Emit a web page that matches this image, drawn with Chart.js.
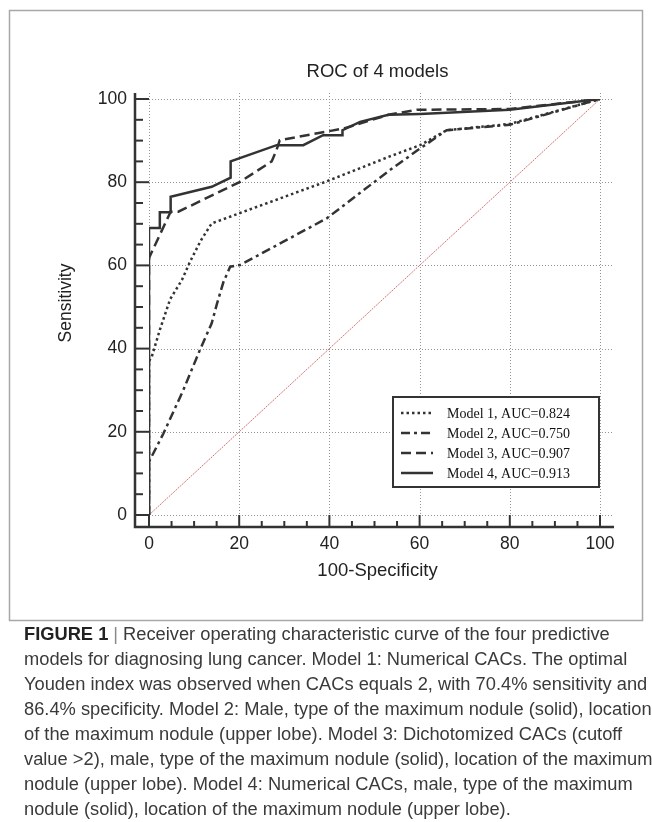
<!DOCTYPE html>
<html>
<head>
<meta charset="utf-8">
<script src="https://cdn.jsdelivr.net/npm/chart.js@4.4.1/dist/chart.umd.min.js"></script>
<style>
  html, body { margin: 0; padding: 0; background: #fff; }
  body { width: 652px; height: 822px; position: relative; overflow: hidden; }
  #roc { position: absolute; left: 0; top: 0; }
  .caption {
    position: absolute; left: 24px; top: 621px; width: 628px;
    font-family: 'Liberation Sans', Arial, sans-serif; font-size: 18.3px;
    line-height: 25px; color: #3a3a3a; white-space: nowrap;
  }
  .caption b { color: #222; }
  .caption .bar { color: #888; padding: 0 5px; }
</style>
</head>
<body>
<canvas id="roc" width="652" height="622"></canvas>
<div class="caption">
  <div><b>FIGURE 1</b><span class="bar">|</span>Receiver operating characteristic curve of the four predictive</div>
  <div>models for diagnosing lung cancer. Model 1: Numerical CACs. The optimal</div>
  <div>Youden index was observed when CACs equals 2, with 70.4% sensitivity and</div>
  <div>86.4% specificity. Model 2: Male, type of the maximum nodule (solid), location</div>
  <div>of the maximum nodule (upper lobe). Model 3: Dichotomized CACs (cutoff</div>
  <div>value &gt;2), male, type of the maximum nodule (solid), location of the maximum</div>
  <div>nodule (upper lobe). Model 4: Numerical CACs, male, type of the maximum</div>
  <div>nodule (solid), location of the maximum nodule (upper lobe).</div>
</div>
<script>
  // ROC curves: x = 100-Specificity, y = Sensitivity
  const MODEL_LABELS = ['Model 1, AUC=0.824', 'Model 2, AUC=0.750', 'Model 3, AUC=0.907', 'Model 4, AUC=0.913'];

  const model1Spec = [0, 0, 0.6, 2.4, 4.7, 7.3, 9.1, 11.5, 13.9, 39.4, 53.4, 60.1, 66, 80, 100];
  const model1Sens = [0, 37, 38, 44.5, 51.9, 56.5, 60.9, 66, 70.1, 80.2, 86.2, 88.9, 92.5, 94, 100];

  const model2Spec = [0, 0, 3.2, 7.6, 11.3, 13.9, 15, 16.5, 18, 20.2, 39.4, 53.4, 60.1, 66, 80, 100];
  const model2Sens = [0, 12.8, 19.6, 30, 39.7, 46.1, 50.5, 56, 59.7, 60.1, 71.3, 82.9, 88.1, 92.5, 93.8, 100];

  const model3Spec = [0, 0, 4.8, 6.5, 20.2, 27.2, 28.2, 29, 43.1, 53.1, 59.4, 80, 100];
  const model3Sens = [0, 61.8, 72.9, 72.9, 80.1, 85, 87.5, 90.1, 92.9, 96.2, 97.4, 97.6, 100];

  const model4Spec = [0, 0, 2.4, 2.4, 4.8, 4.8, 13.9, 18.1, 18.1, 28.3, 34.2, 38.6, 42.9, 42.9, 46.8, 53.1, 60.1, 80, 100];
  const model4Sens = [0, 69, 69, 72.8, 72.8, 76.5, 78.9, 81.1, 85, 88.9, 88.9, 91.3, 91.3, 92.5, 94.5, 96.2, 96.4, 97.4, 100];

  const refSpec = [0, 100];
  const refSens = [0, 100];

  const TICKS = [0, 20, 40, 60, 80, 100];
  const MINOR_STEP = 5;

  const INK = '#333';
  const FONT = "'Liberation Sans', Arial, sans-serif";
  const DASHES = [[2.5, 3], [9, 4, 3, 4], [10, 5], []];

  function pts(xs, ys) {
    return xs.map((x, i) => ({ x: x, y: ys[i] }));
  }

  const curveData = [
    pts(model1Spec, model1Sens),
    pts(model2Spec, model2Sens),
    pts(model3Spec, model3Sens),
    pts(model4Spec, model4Sens)
  ];

  const datasets = curveData.map((data, i) => ({
    label: MODEL_LABELS[i],
    data: data,
    borderColor: INK,
    borderWidth: 2.5,
    borderDash: DASHES[i],
    pointRadius: 0,
    tension: 0,
    fill: false
  }));
  datasets.push({
    label: 'reference',
    data: pts(refSpec, refSens),
    borderColor: '#d27272',
    borderWidth: 1,
    borderDash: [2, 1],
    pointRadius: 0,
    fill: false,
    order: 10
  });

  // frame, grid, offset axes, titles and legend box
  const decorPlugin = {
    id: 'decor',
    beforeDatasetsDraw(chart) {
      const ctx = chart.ctx;
      const xs = chart.scales.x, ys = chart.scales.y;
      const x0 = xs.getPixelForValue(0), x1 = xs.getPixelForValue(100);
      const y0 = ys.getPixelForValue(0), y1 = ys.getPixelForValue(100);
      ctx.save();
      ctx.strokeStyle = '#959595';
      ctx.lineWidth = 1;
      ctx.setLineDash([1, 2]);
      TICKS.forEach(v => {
        const py = Math.round(ys.getPixelForValue(v)) + 0.5;
        ctx.beginPath(); ctx.moveTo(x0, py); ctx.lineTo(x1 + 13, py); ctx.stroke();
        const px = Math.round(xs.getPixelForValue(v)) + 0.5;
        ctx.beginPath(); ctx.moveTo(px, y1 - 6); ctx.lineTo(px, y0); ctx.stroke();
      });
      ctx.restore();
    },
    afterDatasetsDraw(chart) {
      const ctx = chart.ctx;
      const xs = chart.scales.x, ys = chart.scales.y;
      const axX = xs.getPixelForValue(0) - 14;
      const axY = ys.getPixelForValue(0) + 12;
      ctx.save();
      ctx.strokeStyle = INK;
      ctx.setLineDash([]);
      ctx.lineWidth = 2.5;
      ctx.beginPath();
      ctx.moveTo(axX, ys.getPixelForValue(100) - 6);
      ctx.lineTo(axX, axY);
      ctx.lineTo(xs.getPixelForValue(100) + 14, axY);
      ctx.stroke();
      ctx.lineWidth = 2;
      for (let v = 0; v <= 100; v += MINOR_STEP) {
        const major = v % 20 === 0;
        const py = ys.getPixelForValue(v);
        ctx.beginPath(); ctx.moveTo(axX, py); ctx.lineTo(axX + (major ? 14 : 8), py); ctx.stroke();
        const px = xs.getPixelForValue(v);
        ctx.beginPath(); ctx.moveTo(px, axY); ctx.lineTo(px, axY - (major ? 12 : 6)); ctx.stroke();
      }
      ctx.restore();
    },
    afterDraw(chart) {
      const ctx = chart.ctx;
      const area = chart.chartArea;
      ctx.save();
      // outer frame
      ctx.strokeStyle = '#a8a8a8';
      ctx.lineWidth = 1.5;
      ctx.strokeRect(9.5, 10.5, 633, 610);

      ctx.fillStyle = '#222';
      ctx.textAlign = 'center';
      ctx.textBaseline = 'middle';
      ctx.font = '18.5px ' + FONT;
      ctx.fillText('ROC of 4 models', (area.left + area.right) / 2 + 3, 72);
      ctx.fillText('100-Specificity', (area.left + area.right) / 2 + 3, 571);
      ctx.font = '17.5px ' + FONT;
      ctx.translate(66, (area.top + area.bottom) / 2 - 4);
      ctx.rotate(-Math.PI / 2);
      ctx.fillText('Sensitivity', 0, 0);
      ctx.restore();

      // legend box
      const lx = 393, ly = 397, lw = 206, lh = 90;
      ctx.save();
      ctx.fillStyle = '#fff';
      ctx.fillRect(lx, ly, lw, lh);
      ctx.strokeStyle = INK;
      ctx.lineWidth = 2;
      ctx.strokeRect(lx, ly, lw, lh);
      ctx.font = "14px 'Liberation Serif', 'Times New Roman', serif";
      ctx.textBaseline = 'middle';
      ctx.textAlign = 'left';
      chart.data.datasets.slice(0, 4).forEach((ds, i) => {
        const y = ly + 16 + i * 20;
        ctx.strokeStyle = ds.borderColor;
        ctx.lineWidth = ds.borderWidth;
        ctx.setLineDash(ds.borderDash);
        ctx.beginPath(); ctx.moveTo(lx + 8, y); ctx.lineTo(lx + 40, y); ctx.stroke();
        ctx.setLineDash([]);
        ctx.fillStyle = '#111';
        ctx.fillText(ds.label, lx + 54, y + 1);
      });
      ctx.restore();
    }
  };

  function init() {
    const canvas = document.getElementById('roc');
    new Chart(canvas.getContext('2d'), {
      type: 'line',
      data: { datasets: datasets },
      options: {
        responsive: false,
        animation: false,
        devicePixelRatio: 1,
        layout: { padding: { left: 0, top: 99, right: 52, bottom: 0 } },
        plugins: {
          legend: { display: false },
          title: { display: false },
          tooltip: { enabled: false }
        },
        scales: {
          x: {
            type: 'linear', min: 0, max: 100,
            afterFit(scale) { scale.height = 107; },
            grid: { display: false, drawTicks: false, tickLength: 0 },
            border: { display: false },
            ticks: { stepSize: 20, padding: 19, color: '#222', font: { family: FONT, size: 17.5 } }
          },
          y: {
            type: 'linear', min: 0, max: 100,
            afterFit(scale) { scale.width = 149; },
            grid: { display: false, drawTicks: false, tickLength: 0 },
            border: { display: false },
            ticks: { stepSize: 20, padding: 22, color: '#222', font: { family: FONT, size: 17.5 } }
          }
        }
      },
      plugins: [decorPlugin]
    });
  }

  if (document.readyState === 'loading') {
    document.addEventListener('DOMContentLoaded', init);
  } else {
    init();
  }
</script>
</body>
</html>
